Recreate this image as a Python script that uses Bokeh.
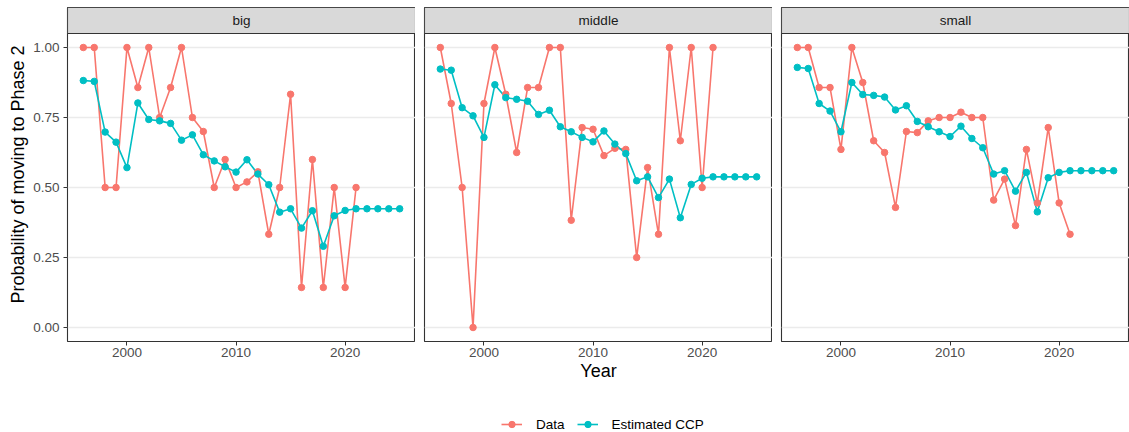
from bokeh.plotting import figure
from bokeh.layouts import row, column
from bokeh.models import (Range1d, FixedTicker, Legend, LegendItem,
                          NumeralTickFormatter)
from bokeh.core.properties import value
from bokeh.embed import file_html
from bokeh.resources import INLINE

# ---------------- data ----------------
panels = ["big", "middle", "small"]
data_years = list(range(1996, 2022))
ccp_years = list(range(1996, 2026))

big_data = [1.00, 1.00, 0.50, 0.50, 1.00, 0.857, 1.00, 0.75, 0.857, 1.00,
            0.75, 0.70, 0.50, 0.60, 0.50, 0.52, 0.556, 0.333, 0.50, 0.833,
            0.143, 0.60, 0.143, 0.50, 0.143, 0.50]
big_ccp = [0.882, 0.879, 0.698, 0.662, 0.571, 0.802, 0.743, 0.738, 0.729, 0.669,
           0.688, 0.617, 0.595, 0.574, 0.555, 0.599, 0.548, 0.510, 0.412, 0.424,
           0.355, 0.417, 0.290, 0.399, 0.418, 0.424, 0.424, 0.424, 0.424, 0.424]

middle_data = [1.00, 0.80, 0.50, 0.00, 0.80, 1.00, 0.833, 0.625, 0.857, 0.857,
               1.00, 1.00, 0.383, 0.714, 0.708, 0.614, 0.64, 0.636, 0.25, 0.571,
               0.333, 1.00, 0.667, 1.00, 0.50, 1.00]
middle_ccp = [0.923, 0.919, 0.785, 0.756, 0.679, 0.867, 0.821, 0.815, 0.808, 0.761,
              0.776, 0.717, 0.699, 0.679, 0.663, 0.702, 0.655, 0.621, 0.524, 0.538,
              0.464, 0.530, 0.392, 0.511, 0.533, 0.538, 0.538, 0.538, 0.538, 0.538]

small_data = [1.00, 1.00, 0.857, 0.857, 0.636, 1.00, 0.875, 0.667, 0.625, 0.429,
              0.70, 0.696, 0.738, 0.75, 0.75, 0.769, 0.75, 0.75, 0.455, 0.53,
              0.364, 0.636, 0.445, 0.714, 0.445, 0.333]
small_ccp = [0.929, 0.925, 0.800, 0.773, 0.699, 0.875, 0.832, 0.829, 0.823, 0.777,
             0.792, 0.736, 0.717, 0.699, 0.682, 0.719, 0.675, 0.642, 0.548, 0.560,
             0.487, 0.554, 0.413, 0.535, 0.554, 0.560, 0.560, 0.560, 0.560, 0.560]

series_data = [big_data, middle_data, small_data]
series_ccp = [big_ccp, middle_ccp, small_ccp]

x_ticks = [2000, 2010, 2020]
y_ticks = [0.0, 0.25, 0.50, 0.75, 1.00]
legend_labels = ["Data", "Estimated CCP"]
x_title = "Year"
y_title = "Probability of moving to Phase 2"

# ---------------- style ----------------
FONT = "Liberation Sans"
RED = "#F8766D"
TEAL = "#00BFC4"
DARK = "#333333"
SMALL = "13.5px"
BIG = "18px"
X0, X1 = 1994.55, 2026.45
Y0, Y1 = -0.05, 1.05
STRIP_TOP = Y1 + 26 / 280.0
PANEL_W = 348
ROW_H = 390

figs = []
for i, name in enumerate(panels):
    left = 67 if i == 0 else 9
    p = figure(width=left + PANEL_W, height=ROW_H,
               x_range=Range1d(X0, X1), y_range=Range1d(Y0, STRIP_TOP),
               output_backend="svg", toolbar_location=None,
               min_border_left=left, min_border_right=0,
               min_border_top=7, min_border_bottom=ROW_H - 341,
               y_axis_location="left" if i == 0 else None)
    p.background_fill_color = "white"
    p.border_fill_color = "white"
    p.outline_line_color = DARK
    p.outline_line_width = 1.1
    p.xgrid.visible = False
    p.ygrid.ticker = FixedTicker(ticks=y_ticks)
    p.ygrid.grid_line_color = "#EBEBEB"
    p.ygrid.grid_line_width = 1.3

    if i == 0:
        ya = p.yaxis[0]
        ya.ticker = FixedTicker(ticks=y_ticks)
        ya.formatter = NumeralTickFormatter(format="0.00")
        ya.axis_line_color = None
        ya.major_tick_line_color = DARK
        ya.major_tick_out = 4
        ya.major_tick_in = 0
        ya.minor_tick_out = 0
        ya.minor_tick_in = 0
        ya.major_label_standoff = 4
        ya.major_label_text_font = FONT
        ya.major_label_text_font_size = SMALL
        ya.major_label_text_color = "#4D4D4D"
        ya.axis_label = y_title
        ya.axis_label_text_font = FONT
        ya.axis_label_text_font_size = BIG
        ya.axis_label_text_font_style = "normal"
        ya.axis_label_text_color = "black"
        ya.axis_label_standoff = 2

    xa = p.xaxis[0]
    xa.ticker = FixedTicker(ticks=x_ticks)
    xa.axis_line_color = None
    xa.major_tick_line_color = DARK
    xa.major_tick_out = 4
    xa.major_tick_in = 0
    xa.minor_tick_out = 0
    xa.minor_tick_in = 0
    xa.major_label_standoff = 2
    xa.major_label_text_font = FONT
    xa.major_label_text_font_size = SMALL
    xa.major_label_text_color = "#4D4D4D"
    if i == 1:
        xa.axis_label = x_title
        xa.axis_label_text_font = FONT
        xa.axis_label_text_font_size = BIG
        xa.axis_label_text_font_style = "normal"
        xa.axis_label_text_color = "black"
        xa.axis_label_standoff = 1

    # facet strip
    p.quad(left=[X0], right=[X1], bottom=[Y1], top=[STRIP_TOP],
           fill_color="#D9D9D9", line_color=DARK, line_width=1.1)
    p.text(x=[(X0 + X1) / 2], y=[(Y1 + STRIP_TOP) / 2], text=[name],
           text_align="center", text_baseline="middle",
           text_font=value(FONT), text_font_size=SMALL, text_color="#1A1A1A")

    p.line(data_years, series_data[i], line_color=RED, line_width=1.6)
    p.line(ccp_years, series_ccp[i], line_color=TEAL, line_width=1.6)
    p.scatter(data_years, series_data[i], size=6.5, fill_color=RED, line_color=RED)
    p.scatter(ccp_years, series_ccp[i], size=6.5, fill_color=TEAL, line_color=TEAL)

    figs.append(p)

# ---------------- legend strip ----------------
# The key renderers reuse the real series; the ranges keep them out of view so
# that only the legend keys show in this strip.
lg = figure(width=1129, height=432 - ROW_H, x_range=Range1d(0, 1), y_range=Range1d(0, 1),
            output_backend="svg", toolbar_location=None,
            min_border_left=0, min_border_right=0, min_border_top=0, min_border_bottom=0,
            x_axis_location=None, y_axis_location=None)
lg.outline_line_color = None
lg.xgrid.visible = False
lg.ygrid.visible = False
key_rl = lg.line(data_years, big_data, line_color=RED, line_width=1.6)
key_rp = lg.scatter(data_years, big_data, size=6.5, fill_color=RED, line_color=RED)
key_tl = lg.line(ccp_years, big_ccp, line_color=TEAL, line_width=1.6)
key_tp = lg.scatter(ccp_years, big_ccp, size=6.5, fill_color=TEAL, line_color=TEAL)
legend = Legend(items=[LegendItem(label=legend_labels[0], renderers=[key_rl, key_rp]),
                       LegendItem(label=legend_labels[1], renderers=[key_tl, key_tp])],
                location=(501, 0), orientation="horizontal",
                padding=3, margin=0, spacing=12, glyph_width=21, glyph_height=16,
                label_standoff=14, label_text_font=FONT,
                label_text_font_size=SMALL, label_text_color="black",
                background_fill_alpha=0, border_line_color=None)
lg.add_layout(legend)

layout = column(row(*figs), lg)
open("out.html", "w").write(file_html(layout, INLINE))
